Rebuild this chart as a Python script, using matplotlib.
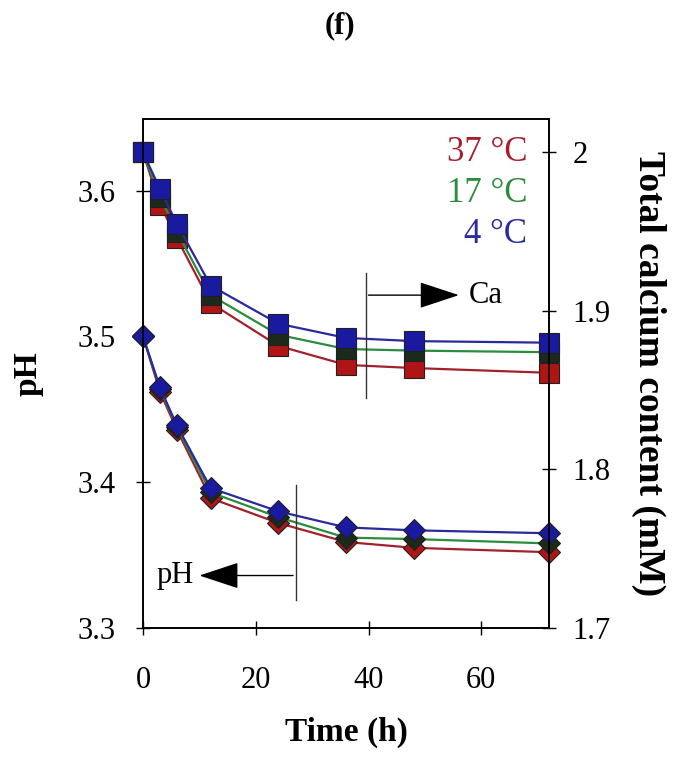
import matplotlib.pyplot as plt

plt.rcParams['font.family'] = ['Liberation Serif', 'DejaVu Serif']

# sampling times (h)
time = [0, 3, 6, 12, 24, 36, 48, 72]

# pH readings per temperature
ph_37 = [3.500, 3.462, 3.436, 3.389, 3.372, 3.359, 3.355, 3.352]
ph_17 = [3.500, 3.464, 3.438, 3.393, 3.376, 3.362, 3.361, 3.358]
ph_4 = [3.500, 3.465, 3.439, 3.396, 3.380, 3.369, 3.367, 3.365]

# total calcium content (mM) per temperature
ca_37 = [2.000, 1.967, 1.946, 1.905, 1.878, 1.866, 1.864, 1.861]
ca_17 = [2.000, 1.972, 1.950, 1.910, 1.885, 1.876, 1.875, 1.874]
ca_4 = [2.000, 1.977, 1.955, 1.916, 1.892, 1.883, 1.881, 1.880]

labels = ['37 \u00b0C', '17 \u00b0C', '4 \u00b0C']
colors = ['#a3202c', '#2a8c3c', '#2a2a9c']
mcolors = ['#b01515', '#1c2a1c', '#1a1aa0']

fig = plt.figure(figsize=(6.83, 7.64), dpi=100)
ax = fig.add_axes([0.2094, 0.178, 0.5944, 0.666])
ax2 = ax.twinx()

# draw red first, then green, then blue on top
for ph, ca, c, mc in zip([ph_37, ph_17, ph_4], [ca_37, ca_17, ca_4], colors, mcolors):
    ax.plot(time, ph, color=c, lw=1.6, marker='D', markersize=11,
            markerfacecolor=mc, markeredgecolor='#202020', markeredgewidth=0.8, clip_on=False)
    ax2.plot(time, ca, color=c, lw=1.6, marker='s', markersize=14,
             markerfacecolor=mc, markeredgecolor='#202020', markeredgewidth=0.8, clip_on=False)

ax.set_xlim(0, 72)
ax.set_ylim(3.3, 3.649)
ax2.set_ylim(1.7, 2.021)
ax.set_xticks([0, 20, 40, 60])
ax.set_yticks([3.3, 3.4, 3.5, 3.6])
ax2.set_yticks([1.7, 1.8, 1.9, 2.0])
ax2.set_yticklabels(['1.7', '1.8', '1.9', '2'])

for a in (ax, ax2):
    a.tick_params(direction='inout', length=10, width=1, labelsize=22)
    for s in a.spines.values():
        s.set_linewidth(1.2)
ax.tick_params(axis='y', pad=15)
ax.tick_params(axis='x', pad=22)
ax2.tick_params(axis='y', pad=12)

ax.set_xlabel('Time (h)', fontsize=24, fontweight='bold', labelpad=16)
ax.set_ylabel('pH', fontsize=24, fontweight='bold', labelpad=24)
ax2.set_ylabel('Total calcium content (mM)', fontsize=27, fontweight='bold',
               rotation=270, labelpad=40)

# temperature legend as coloured text
for i, (lab, c) in enumerate(zip(labels, colors)):
    ax.text(0.946, 0.935 - i * 0.081, lab, color=c, fontsize=25,
            ha='right', va='center', transform=ax.transAxes)

# Ca pointer (right axis)
ax2.plot([39.5, 39.5], [1.845, 1.924], color='#333333', lw=1)
ax2.annotate('', xy=(56.5, 1.910), xytext=(39.5, 1.910),
             arrowprops=dict(arrowstyle='-|>,head_length=1.15,head_width=0.38',
                             mutation_scale=22, color='black', lw=1))
ax2.text(57.8, 1.910, 'Ca', fontsize=22, ha='left', va='center')

# pH pointer (left axis)
ax.plot([27.1, 27.1], [3.319, 3.398], color='#333333', lw=1)
ax.annotate('', xy=(9.5, 3.336), xytext=(27.1, 3.336),
            arrowprops=dict(arrowstyle='-|>,head_length=1.15,head_width=0.38',
                            mutation_scale=22, color='black', lw=1))
ax.text(9.0, 3.336, 'pH', fontsize=22, ha='right', va='center')

fig.text(0.497, 0.966, '(f)', fontsize=22, fontweight='bold', ha='center', va='center')

fig.savefig('out.png', dpi=100)
